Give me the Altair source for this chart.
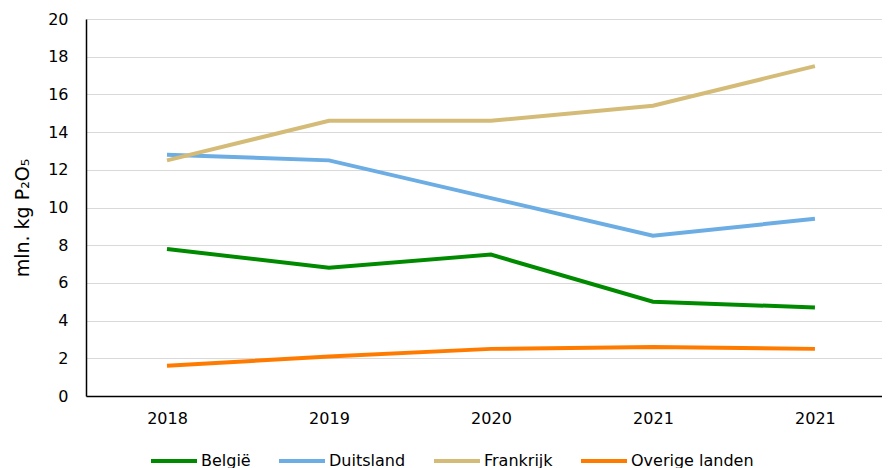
import altair as alt
import pandas as pd

years = ["2018", "2019", "2020", "2021", "2021"]
series = ["België", "Duitsland", "Frankrijk", "Overige landen"]
belgie = [7.8, 6.8, 7.5, 5.0, 4.7]
duitsland = [12.8, 12.5, 10.5, 8.5, 9.4]
frankrijk = [12.5, 14.6, 14.6, 15.4, 17.5]
overige = [1.6, 2.1, 2.5, 2.6, 2.5]
colors = ["#008a00", "#6cade4", "#d4bc78", "#ff7b00"]

rows = []
for name, vals in zip(series, [belgie, duitsland, frankrijk, overige]):
    for i, v in enumerate(vals):
        rows.append({"idx": i, "jaar": years[i], "land": name, "waarde": v})
df = pd.DataFrame(rows)

label_expr = "[" + ",".join(f"'{y}'" for y in years) + "][datum.value]"

FONT = "DejaVu Sans"

chart = alt.Chart(df).mark_line(strokeWidth=4).encode(
    x=alt.X("idx:Q", title=None,
            scale=alt.Scale(domain=[-0.5, 4.414], nice=False, zero=False),
            axis=alt.Axis(values=[0, 1, 2, 3, 4], labelExpr=label_expr, labelAngle=0,
                          ticks=False, labelPadding=14, domainColor="#000000",
                          domainWidth=1.5, grid=False, labelFontSize=16,
                          labelColor="#000000", labelFlush=False)),
    y=alt.Y("waarde:Q", title="mln. kg P₂O₅",
            scale=alt.Scale(domain=[0, 20], nice=False),
            axis=alt.Axis(values=list(range(0, 21, 2)), ticks=False,
                          labelPadding=18, domainColor="#000000", domainWidth=1.5,
                          gridColor="#d9d9d9", gridWidth=1,
                          labelFontSize=16, labelColor="#000000",
                          titleFontSize=19, titleFontWeight="normal",
                          titleColor="#000000", titleAngle=-90,
                          titleX=-57.5, titleY=198.5, titleAlign="center",
                          titleBaseline="alphabetic")),
    color=alt.Color("land:N", title=None,
                    scale=alt.Scale(domain=series, range=colors),
                    legend=alt.Legend(orient="none", direction="horizontal",
                                      legendX=63, legendY=417, padding=0,
                                      symbolType="stroke", symbolSize=2116,
                                      symbolStrokeWidth=4, labelFontSize=16,
                                      labelColor="#000000", labelOffset=2,
                                      columnPadding=20)),
    order=alt.Order("idx:Q"),
).properties(
    width=796, height=377,
    autosize=alt.AutoSizeParams(type="none"),
    padding={"left": 78, "top": 11, "right": 0, "bottom": 72},
).configure(font=FONT).configure_view(stroke=None)

chart.save("out.html", embed_options={"renderer": "svg", "actions": False})
